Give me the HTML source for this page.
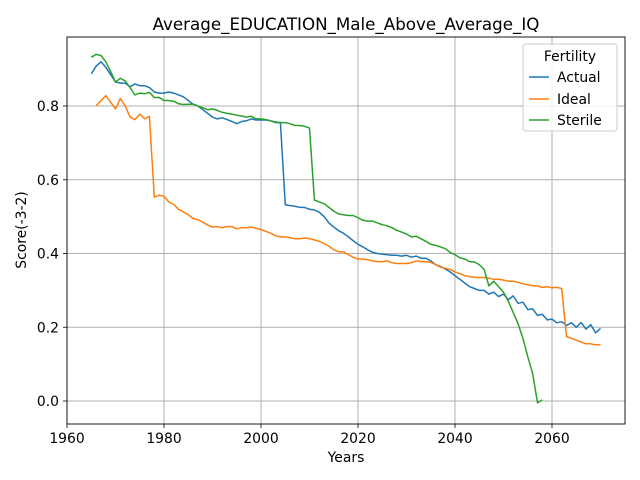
<!DOCTYPE html>
<html><head><meta charset="utf-8"><style>
body{margin:0;background:#fff;}
svg{display:block;font-family:"DejaVu Sans","Liberation Sans",sans-serif;}
</style></head><body>
<svg id="chart" width="640" height="480" viewBox="0 0 640 480">
<rect width="640" height="480" fill="#fff"/>
<text x="346" y="30" text-anchor="middle" font-size="16.7">Average_EDUCATION_Male_Above_Average_IQ</text>
<g id="grid"></g>
<g id="series"></g>
<rect x="67" y="37" width="558" height="387" fill="none" stroke="#000" stroke-width="0.9"/>
<g id="axes"></g>
<text x="346" y="462" text-anchor="middle" font-size="13.9">Years</text>
<text transform="translate(26,230) rotate(-90)" text-anchor="middle" font-size="13.9">Score(-3-2)</text>
<g>
<rect x="523" y="44" width="94" height="87" rx="3" fill="#fff" fill-opacity="0.85" stroke="#ccc"/>
<text x="570" y="61" text-anchor="middle" font-size="13.9">Fertility</text>
<line x1="529" y1="77" x2="549" y2="77" stroke="#1f77b4" stroke-width="1.5"/><text x="557" y="82" font-size="13.9">Actual</text>
<line x1="529" y1="99" x2="549" y2="99" stroke="#ff7f0e" stroke-width="1.5"/><text x="557" y="104" font-size="13.9">Ideal</text>
<line x1="529" y1="120" x2="549" y2="120" stroke="#2ca02c" stroke-width="1.5"/><text x="557" y="125" font-size="13.9">Sterile</text>
</g>
</svg>
<script>
const actualStart = 1965;
const actualValues = [.887,.908,.92,.905,.885,.865,.862,.862,.852,.86,.855,.855,.85,.838,.835,.835,.838,.835,.83,.825,.815,.805,.8,.79,.78,.77,.765,.768,.763,.758,.752,.758,.76,.765,.762,.762,.762,.76,.755,.755,.532,.53,.528,.525,.525,.52,.518,.512,.5,.483,.472,.462,.455,.445,.435,.425,.418,.41,.403,.4,.398,.397,.395,.395,.393,.395,.39,.393,.387,.387,.38,.37,.365,.358,.35,.34,.33,.32,.31,.305,.3,.3,.29,.295,.283,.29,.275,.285,.265,.268,.248,.25,.232,.235,.22,.222,.212,.215,.205,.212,.2,.213,.195,.207,.185,.197];
const idealStart = 1966;
const idealValues = [.8,.815,.828,.81,.792,.82,.8,.77,.763,.778,.765,.772,.553,.558,.555,.54,.533,.52,.513,.505,.495,.492,.485,.477,.472,.473,.47,.473,.473,.467,.47,.47,.472,.468,.465,.46,.455,.448,.445,.445,.443,.44,.44,.442,.44,.437,.433,.427,.42,.41,.405,.405,.397,.39,.385,.385,.383,.38,.378,.378,.38,.375,.373,.373,.373,.375,.38,.378,.378,.376,.37,.363,.36,.357,.35,.345,.34,.337,.336,.335,.335,.333,.33,.33,.328,.325,.325,.322,.318,.315,.313,.312,.308,.31,.307,.308,.305,.175,.17,.165,.16,.155,.155,.152,.153];
const sterileStart = 1965;
const sterileValues = [.932,.94,.937,.92,.893,.865,.875,.868,.85,.83,.835,.833,.837,.823,.823,.815,.815,.813,.806,.804,.805,.805,.8,.795,.79,.792,.788,.783,.78,.778,.775,.773,.77,.772,.765,.765,.763,.76,.757,.755,.755,.752,.747,.747,.745,.74,.545,.54,.535,.525,.515,.507,.505,.503,.503,.497,.49,.488,.488,.483,.478,.475,.47,.463,.458,.453,.445,.447,.44,.433,.425,.422,.418,.413,.403,.397,.388,.385,.378,.377,.37,.357,.312,.325,.31,.295,.27,.24,.21,.17,.12,.075,-.005,.003];
const xTicks = [1960,1980,2000,2020,2040,2060];
const yTicks = [0.0,0.2,0.4,0.6,0.8];

const NS="http://www.w3.org/2000/svg";
const xs = v => 67 + (v-1960)*97/20;
const ys = v => 401 - v*368.75;
const grid=document.getElementById('grid'), axes=document.getElementById('axes'), ser=document.getElementById('series');
function mk(tag,attrs,parent){const e=document.createElementNS(NS,tag);for(const k in attrs)e.setAttribute(k,attrs[k]);parent.appendChild(e);return e;}
xTicks.forEach(t=>{
  const x=xs(t);
  const g=mk('line',{x1:x,x2:x,y1:37,y2:424,stroke:'#b0b0b0','stroke-width':1},grid);
  
  
  mk('line',{x1:x,x2:x,y1:424,y2:428,stroke:'#000','stroke-width':0.8},axes);
  const tx=mk('text',{x:x,y:443,'text-anchor':'middle','font-size':13.9},axes);
  tx.textContent=t;
  
  
});
yTicks.forEach(t=>{
  const y=ys(t);
  const g=mk('line',{x1:67,x2:625,y1:y,y2:y,stroke:'#b0b0b0','stroke-width':1},grid);
  
  
  mk('line',{x1:63,x2:67,y1:y,y2:y,stroke:'#000','stroke-width':0.8},axes);
  const tx=mk('text',{x:59,y:y+5,'text-anchor':'end','font-size':13.9},axes);
  tx.textContent=t.toFixed(1);
  
  
});
function line(start,vals,color,name){
  const pts=vals.map((v,i)=>xs(start+i).toFixed(1)+','+ys(v).toFixed(1)).join(' ');
  const p=mk('polyline',{points:pts,fill:'none',stroke:color,'stroke-width':1.5,'stroke-linejoin':'round'},ser);
  
  
}
line(actualStart,actualValues,'#1f77b4','actual-line');
line(idealStart,idealValues,'#ff7f0e','ideal-line');
line(sterileStart,sterileValues,'#2ca02c','sterile-line');
</script>
</body></html>
